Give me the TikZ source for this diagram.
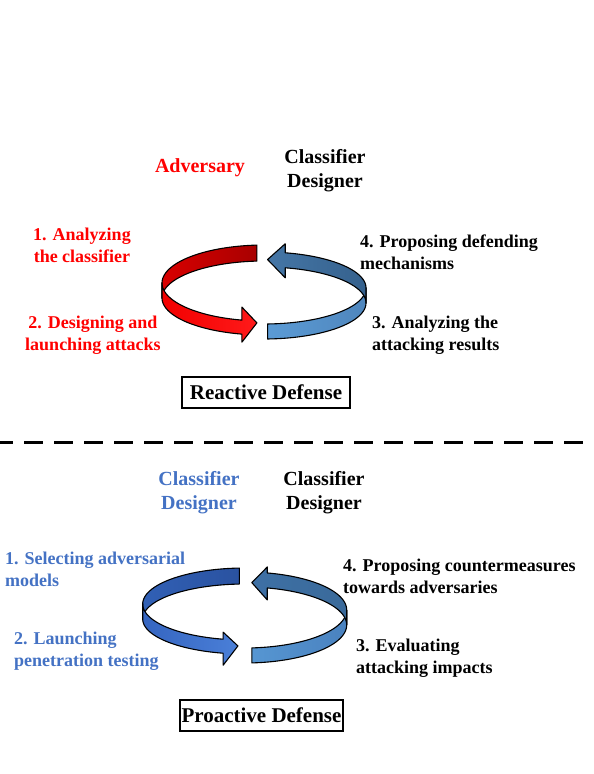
\documentclass[tikz,border=0pt]{standalone}
\usepackage{fontspec}
\setmainfont{Liberation Serif}
\definecolor{redtxt}{RGB}{255,0,0}
\definecolor{bluetxt}{RGB}{68,114,196}
\definecolor{redBa}{HTML}{D80000}
\definecolor{redBb}{HTML}{A80000}
\definecolor{redFa}{HTML}{F20000}
\definecolor{redFb}{HTML}{FF1A1A}
\definecolor{ubFa}{HTML}{5B9BD5}
\definecolor{ubFb}{HTML}{4F86BD}
\definecolor{ubBa}{HTML}{4576A6}
\definecolor{ubBb}{HTML}{35618D}
\definecolor{lbBa}{HTML}{3160B5}
\definecolor{lbBb}{HTML}{2A52A0}
\definecolor{lbFa}{HTML}{3565C0}
\definecolor{lbFb}{HTML}{4A7FD8}
\definecolor{rbFa}{HTML}{5696D2}
\definecolor{rbFb}{HTML}{4A82BF}
\definecolor{rbBa}{HTML}{3E70A5}
\definecolor{rbBb}{HTML}{3A6A9A}
\tikzset{
  titletxt/.style={font=\bfseries\fontsize{20}{24}\selectfont, align=center, inner sep=0pt},
  steptxt/.style={font=\bfseries\fontsize{18}{22}\selectfont, inner sep=0pt},
  defbox/.style={draw=black, line width=1.5pt, font=\bfseries\fontsize{21}{25}\selectfont, minimum height=31pt, inner sep=0pt},
  ringline/.style={draw=black, line width=1.1pt, line join=round},
  dashline/.style={line width=3pt, dash pattern=on 19pt off 11pt, dash phase=6pt}
}
\newcommand\SetRing[6]{\def\raCX{#1}\def\raRX{#2}\def\raCYa{#3}\def\raRYa{#4}\def\raCYb{#5}\def\raRYb{#6}}
% #1 start, #2 side, #3 head base, #4 tip, #5 wing up, #6 wing down, #7 tip dy, #8 first style, #9 second style
\newcommand\RingArrow[9]{%
  \draw[ringline,#8] plot[domain=#1:#2,samples=40] ({\raCX+\raRX*cos(\x)},{\raCYa+\raRYa*sin(\x)})
     -- plot[domain=#2:#1,samples=40] ({\raCX+\raRX*cos(\x)},{\raCYb+\raRYb*sin(\x)}) -- cycle;
  \draw[ringline,#9] plot[domain=#2:#3,samples=40] ({\raCX+\raRX*cos(\x)},{\raCYa+\raRYa*sin(\x)})
     -- ({\raCX+\raRX*cos(#3)},{\raCYa+\raRYa*sin(#3)-#5})
     -- ({\raCX+\raRX*cos(#4)},{(\raCYa+\raRYa*sin(#4)+\raCYb+\raRYb*sin(#4))/2+#7})
     -- ({\raCX+\raRX*cos(#3)},{\raCYb+\raRYb*sin(#3)+#6})
     -- plot[domain=#3:#2,samples=40] ({\raCX+\raRX*cos(\x)},{\raCYb+\raRYb*sin(\x)}) -- cycle;
}
\begin{document}
\begin{tikzpicture}[x=1pt,y=-1pt]
\fill[white] (0,0) rectangle (594,774);
\useasboundingbox (0,0) rectangle (594,774);

% ---------- Reactive defense ----------
\node[titletxt, text=redtxt] (adv) at (200,168) {Adversary};
\node[titletxt] (cd1) at (325,170.5) {Classifier\\Designer};
\node[steptxt, text=redtxt, align=center] (s1) at (82,245.5) {1. Analyzing\\the classifier};
\node[steptxt, text=redtxt, align=center] (s2) at (93,335.5) {2. Designing and\\launching attacks};
\node[steptxt, align=left, anchor=west] (s4) at (360,252.5) {4. Proposing defending\\mechanisms};
\node[steptxt, align=left, anchor=west] (s3) at (372,335.5) {3. Analyzing the\\attacking results};

\SetRing{264}{102}{283}{38}{298}{37}
\RingArrow{266}{180}{102.5}{94}{13}{8}{-5}{left color=redBa,right color=redBb}{left color=redFa,right color=redFb}
\SetRing{264}{102}{288}{36}{303}{36}
\RingArrow{88}{0}{-78}{-88}{9}{10}{0}{left color=ubFa,right color=ubFb}{left color=ubBa,right color=ubBb}

\node[defbox, minimum width=168pt] (react) at (266,392.5) {Reactive Defense};

% ---------- separator ----------
\coordinate (dL) at (0,442);
\coordinate (dR) at (594,442);
\draw[dashline] (dL) -- (dR);

% ---------- Proactive defense ----------
\node[titletxt, text=bluetxt] (cd2) at (199,492.5) {Classifier\\Designer};
\node[titletxt] (cd3) at (324,492.5) {Classifier\\Designer};
\node[steptxt, text=bluetxt, align=left, anchor=west] (p1) at (5,569.5) {1. Selecting adversarial\\models};
\node[steptxt, text=bluetxt, align=left, anchor=west] (p2) at (14,651.5) {2. Launching\\penetration testing};
\node[steptxt, align=left, anchor=west] (p4) at (343,576.5) {4. Proposing countermeasures\\towards adversaries};
\node[steptxt, align=left, anchor=west] (p3) at (356,658.5) {3. Evaluating\\attacking impacts};

\SetRing{244.7}{102}{604}{36}{619}{35}
\RingArrow{267}{180}{102.2}{93.8}{7}{12}{-1}{left color=lbBa,right color=lbBb}{left color=lbFa,right color=lbFb}
\SetRing{244.7}{102}{610}{38}{625}{38}
\RingArrow{86}{0}{-77.2}{-86}{6}{12}{3}{left color=rbFa,right color=rbFb}{left color=rbBa,right color=rbBb}

\node[defbox, minimum width=163pt] (proact) at (261.5,715.5) {Proactive Defense};
\end{tikzpicture}
\end{document}
